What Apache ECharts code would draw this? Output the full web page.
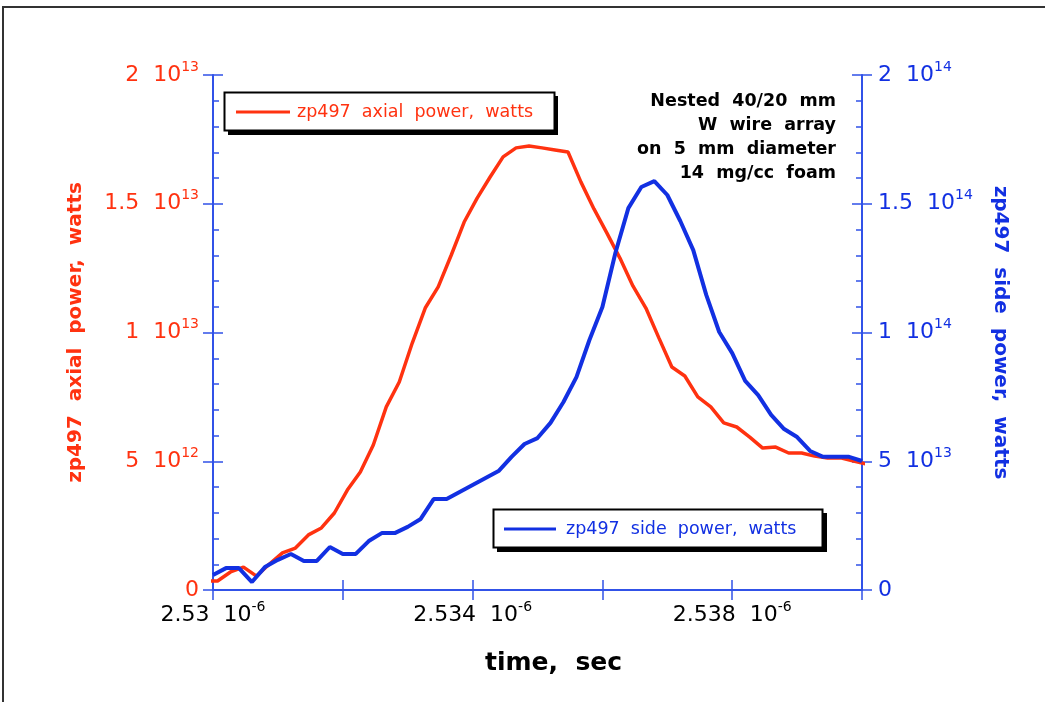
<!DOCTYPE html>
<html><head><meta charset="utf-8">
<script src="https://cdn.jsdelivr.net/npm/echarts@6/dist/echarts.min.js"></script>
<style>html,body{margin:0;padding:0;background:#fff}#c{width:1045px;height:702px}</style>
</head><body><div id="c"></div>
<script>
// time in microseconds (x 10^-6 s); power in units of 10^12 W
const sideTime = [2.5300,2.5302,2.5304,2.5306,2.5308,2.5310,2.5312,2.5314,2.5316,2.5318,
  2.5320,2.5322,2.5324,2.5326,2.5328,2.5330,2.5332,2.5334,2.5336,2.5338,
  2.5340,2.5342,2.5344,2.5346,2.5348,2.5350,2.5352,2.5354,2.5356,2.5358,
  2.5360,2.5362,2.5364,2.5366,2.5368,2.5370,2.5372,2.5374,2.5376,2.5378,
  2.5380,2.5382,2.5384,2.5386,2.5388,2.5390,2.5392,2.5394,2.5396,2.5398,2.5400];
const sidePower = [5.8,8.5,8.5,3.1,8.9,11.7,14.0,11.3,11.3,16.7,
  14.0,14.0,19.0,22.1,22.1,24.5,27.6,35.3,35.3,38.1,
  40.8,43.5,46.2,51.7,56.7,59.0,64.9,73.0,82.7,97.1,
  109.9,130.9,148.3,156.5,158.8,153.4,143.3,132.0,114.6,100.2,
  92.0,81.2,75.7,68.0,62.5,59.4,54.0,51.7,51.7,51.7,50.1];
const axialTime = [2.52987,2.53007,2.53027,2.53047,2.53067,2.53087,2.53107,2.53127,2.53147,2.53167,2.53187,
  2.53207,2.53227,2.53247,2.53267,2.53287,2.53307,2.53327,2.53347,2.53367,2.53387,
  2.53407,2.53427,2.53447,2.53467,2.53487,2.53507,2.53527,2.53547,2.53567,2.53587,
  2.53607,2.53627,2.53647,2.53667,2.53687,2.53707,2.53727,2.53747,2.53767,2.53787,
  2.53807,2.53827,2.53847,2.53867,2.53887,2.53907,2.53927,2.53947,2.53967,2.53987,2.54007];
const axialPower = [0.35,0.35,0.70,0.89,0.54,1.01,1.44,1.63,2.14,2.41,2.99,
  3.88,4.58,5.63,7.11,8.08,9.59,10.95,11.77,13.0,14.29,
  15.22,16.04,16.82,17.17,17.24,17.17,17.09,17.01,15.84,14.80,
  13.86,12.89,11.81,10.95,9.79,8.66,8.31,7.50,7.11,6.49,
  6.33,5.94,5.51,5.55,5.32,5.32,5.20,5.13,5.13,5.01,4.89];

const xTickValues = [2.530, 2.534, 2.538];
const xTickText = ['2.53  10^-6', '2.534  10^-6', '2.538  10^-6'];
const leftTickValues = [0, 5, 10, 15, 20];
const leftTickText = ['0', '5  10^12', '1  10^13', '1.5  10^13', '2  10^13'];
const rightTickValues = [0, 50, 100, 150, 200];
const rightTickText = ['0', '5  10^13', '1  10^14', '1.5  10^14', '2  10^14'];
const noteLines = ['Nested  40/20  mm', 'W  wire  array', 'on  5  mm  diameter', '14  mg/cc  foam'];
const axialName = 'zp497  axial  power,  watts';
const sideName = 'zp497  side  power,  watts';

const RED = '#ff3210', BLUE = '#1230e2', AX = '#3152e8';
const FONT = 'DejaVu Sans';

function sup(str) {
  const p = str.split('^');
  return p.length > 1 ? '{m|' + p[0] + '}{s|' + p[1] + '}' : '{m|' + p[0] + '}';
}
function lookup(vals, texts) {
  return function (v) {
    for (let i = 0; i < vals.length; i++) if (Math.abs(v - vals[i]) < 1e-7) return sup(texts[i]);
    return '';
  };
}
function rich(color, size, supSize, weight) {
  return {
    m: {fontSize: size, color: color, fontFamily: FONT, fontWeight: weight || 'normal', lineHeight: 30},
    s: {fontSize: supSize, color: color, fontFamily: FONT, fontWeight: weight || 'normal', verticalAlign: 'top', lineHeight: supSize}
  };
}

const chart = echarts.init(document.getElementById('c'));
const xBase = {type: 'value', min: 2.530, max: 2.540, interval: 0.002, splitLine: {show: false}};
const yL = {type: 'value', min: 0, max: 20, interval: 5, splitLine: {show: false}};
const yR = {type: 'value', min: 0, max: 200, interval: 50, splitLine: {show: false}};
const tickStyle = {color: AX, width: 1.5};

chart.setOption({
  animation: false,
  grid: {left: 213, top: 75, width: 649, height: 515, containLabel: false, outerBoundsMode: 'none'},
  xAxis: [
    Object.assign({}, xBase, {
      position: 'bottom',
      axisLine: {lineStyle: {color: AX, width: 2}},
      axisTick: {inside: false, length: 10, lineStyle: tickStyle},
      axisLabel: {formatter: lookup(xTickValues, xTickText), margin: 10, rich: rich('#000', 22, 14)},
      name: 'time,  sec', nameLocation: 'middle', nameGap: 61,
      nameTextStyle: {color: '#000', fontFamily: FONT, fontWeight: 'bold', fontSize: 25, padding: [0, 0, 0, 32]}
    }),
    Object.assign({}, xBase, {position: 'bottom', axisLine: {show: false},
      axisTick: {inside: true, length: 10, lineStyle: tickStyle}, axisLabel: {show: false}}),
    Object.assign({}, xBase, {position: 'top', axisLine: {lineStyle: {color: AX, width: 2}},
      axisTick: {inside: true, length: 10, lineStyle: tickStyle}, axisLabel: {show: false}}),
    Object.assign({}, xBase, {position: 'top', axisLine: {show: false},
      axisTick: {inside: false, length: 10, lineStyle: tickStyle}, axisLabel: {show: false}})
  ],
  yAxis: [
    Object.assign({}, yL, {
      position: 'left',
      axisLine: {lineStyle: {color: AX, width: 2}},
      axisTick: {inside: true, length: 10, lineStyle: tickStyle},
      minorTick: {show: true, splitNumber: 5, length: 6, lineStyle: tickStyle},
      axisLabel: {formatter: lookup(leftTickValues, leftTickText), margin: 14, rich: rich(RED, 22, 14)},
      name: axialName, nameLocation: 'middle', nameGap: 127, nameRotate: 90,
      nameTextStyle: {color: RED, fontFamily: FONT, fontWeight: 'bold', fontSize: 20}
    }),
    Object.assign({}, yL, {position: 'left', axisLine: {show: false},
      axisTick: {inside: false, length: 10, lineStyle: tickStyle}, axisLabel: {show: false}}),
    Object.assign({}, yR, {
      position: 'right',
      axisLine: {lineStyle: {color: AX, width: 2}},
      axisTick: {inside: true, length: 10, lineStyle: tickStyle},
      minorTick: {show: true, splitNumber: 5, length: 6, lineStyle: tickStyle},
      axisLabel: {formatter: lookup(rightTickValues, rightTickText), margin: 16, rich: rich(BLUE, 22, 14)},
      name: sideName, nameLocation: 'middle', nameGap: 128, nameRotate: -90,
      nameTextStyle: {color: BLUE, fontFamily: FONT, fontWeight: 'bold', fontSize: 20}
    }),
    Object.assign({}, yR, {position: 'right', axisLine: {show: false},
      axisTick: {inside: false, length: 10, lineStyle: tickStyle}, axisLabel: {show: false}})
  ],
  series: [
    {type: 'line', name: 'axial', xAxisIndex: 0, yAxisIndex: 0, symbol: 'none', clip: true,
      data: axialTime.map((t, i) => [t, axialPower[i]]),
      lineStyle: {color: RED, width: 3.5}, itemStyle: {color: RED}, z: 3},
    {type: 'line', name: 'side', xAxisIndex: 0, yAxisIndex: 2, symbol: 'none', clip: true,
      data: sideTime.map((t, i) => [t, sidePower[i]]),
      lineStyle: {color: BLUE, width: 4}, itemStyle: {color: BLUE}, z: 4}
  ],
  graphic: [
    {type: 'rect', shape: {x: 3, y: 7, width: 1100, height: 800}, style: {fill: 'none', stroke: '#333', lineWidth: 2}, silent: true},
    {type: 'rect', shape: {x: 228, y: 96, width: 330, height: 39}, style: {fill: '#000'}, z: 10},
    {type: 'rect', shape: {x: 224.5, y: 92.5, width: 330, height: 38}, style: {fill: '#fff', stroke: '#000', lineWidth: 2}, z: 11},
    {type: 'line', shape: {x1: 236, y1: 112, x2: 290, y2: 112}, style: {stroke: RED, lineWidth: 3}, z: 12},
    {type: 'text', x: 297, y: 112, style: {text: axialName, fill: RED, fontFamily: FONT, fontSize: 17.5, verticalAlign: 'middle'}, z: 12},
    {type: 'rect', shape: {x: 497, y: 513, width: 330, height: 39}, style: {fill: '#000'}, z: 10},
    {type: 'rect', shape: {x: 493.5, y: 509.5, width: 329, height: 38}, style: {fill: '#fff', stroke: '#000', lineWidth: 2}, z: 11},
    {type: 'line', shape: {x1: 504, y1: 529, x2: 556, y2: 529}, style: {stroke: BLUE, lineWidth: 3}, z: 12},
    {type: 'text', x: 566, y: 529, style: {text: sideName, fill: BLUE, fontFamily: FONT, fontSize: 17.5, verticalAlign: 'middle'}, z: 12},
    {type: 'text', x: 836, y: 89, style: {text: noteLines.join('\n'), fill: '#000', fontFamily: FONT, fontWeight: 'bold', fontSize: 17.5, lineHeight: 24, align: 'right', verticalAlign: 'top'}, z: 12}
  ]
});
</script></body></html>
